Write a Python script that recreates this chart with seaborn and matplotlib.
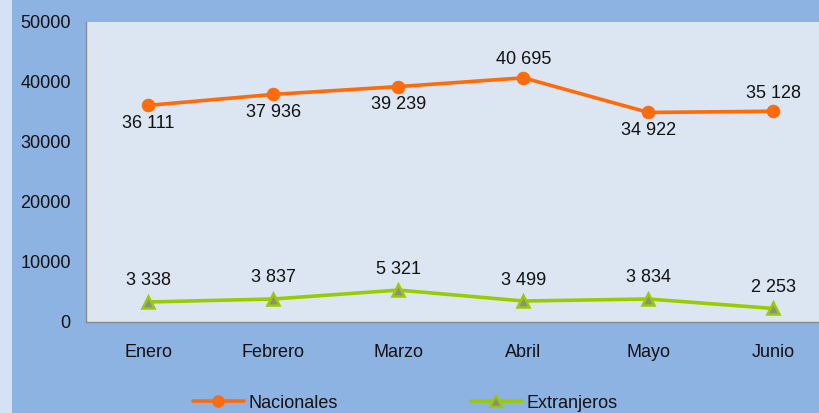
import matplotlib
matplotlib.use("Agg")
import matplotlib.pyplot as plt
import seaborn as sns
import pandas as pd
from matplotlib.patches import Rectangle
from matplotlib.lines import Line2D

months = ["Enero", "Febrero", "Marzo", "Abril", "Mayo", "Junio"]
nacionales = [36111, 37936, 39239, 40695, 34922, 35128]
extranjeros = [3338, 3837, 5321, 3499, 3834, 2253]
nac_label_pos = ["below", "below", "below", "above", "below", "above"]
y_ticks = [0, 10000, 20000, 30000, 40000, 50000]

sns.set_theme(style="white")
plt.rcParams["font.family"] = ["Liberation Sans", "DejaVu Sans"]

W, H = 820, 413
fig = plt.figure(figsize=(W / 100, H / 100), dpi=100)
fig.patch.set_facecolor("#8DB3E2")
# textured light strip at the left
fig.add_artist(Rectangle((0, 0), 12 / W, 1, transform=fig.transFigure,
                         facecolor="#D3E3F3", edgecolor="none", zorder=0))

left, right, top, bottom = 86, 836, 22, 322
ax = fig.add_axes([left / W, 1 - bottom / H, (right - left) / W, (bottom - top) / H])
ax.set_facecolor("#DCE6F2")

df = pd.DataFrame({"mes": list(range(len(months))) * 2,
                   "valor": nacionales + extranjeros,
                   "serie": ["Nacionales"] * 6 + ["Extranjeros"] * 6})

orange = "#FF6A0A"
green = "#99CC00"
gray = "#8C8C8C"

sns.lineplot(data=df[df.serie == "Nacionales"], x="mes", y="valor", ax=ax,
             color=orange, linewidth=2.6, marker="o", markersize=9,
             markeredgecolor=orange, markerfacecolor=orange, legend=False)
sns.lineplot(data=df[df.serie == "Extranjeros"], x="mes", y="valor", ax=ax,
             color=green, linewidth=2.6, marker="^", markersize=9,
             markeredgecolor=green, markerfacecolor=gray, markeredgewidth=1.8,
             legend=False)

ax.set_xlim(-0.5, len(months) - 0.5)
ax.set_ylim(0, 50000)
ax.set_yticks(y_ticks)
ax.set_yticklabels([str(v) for v in y_ticks], fontsize=13, color="#111111")
ax.set_xticks(range(len(months)))
ax.set_xticklabels(months, fontsize=13, color="#111111")
ax.tick_params(axis="y", length=0, pad=11)
ax.tick_params(axis="x", length=0, pad=16)
ax.set_xlabel("")
ax.set_ylabel("")
for s in ["top", "right"]:
    ax.spines[s].set_visible(False)
for s in ["left", "bottom"]:
    ax.spines[s].set_color("#8A8A8A")
    ax.spines[s].set_linewidth(1.0)

def fmt(v):
    return f"{v:,}".replace(",", " ")

for i, (v, pos) in enumerate(zip(nacionales, nac_label_pos)):
    dy = 18 if pos == "above" else -18
    ax.annotate(fmt(v), (i, v), xytext=(0, dy * 0.72), textcoords="offset points",
                ha="center", va="center", fontsize=13, color="#111111")
for i, v in enumerate(extranjeros):
    ax.annotate(fmt(v), (i, v), xytext=(0, 21 * 0.72), textcoords="offset points",
                ha="center", va="center", fontsize=13, color="#111111")

handles = [Line2D([], [], color=orange, linewidth=2.6, marker="o", markersize=8,
                  markerfacecolor=orange, markeredgecolor=orange),
           Line2D([], [], color=green, linewidth=2.6, marker="^", markersize=9,
                  markerfacecolor=gray, markeredgecolor=green, markeredgewidth=1.6)]
fig.legend(handles, ["Nacionales", "Extranjeros"], loc="center left",
           bbox_to_anchor=(193 / W, 1 - 403 / H), ncol=2, frameon=False,
           fontsize=13, handlelength=2.8, handletextpad=0.25, columnspacing=7.4,
           borderpad=0, borderaxespad=0, labelcolor="#111111")

fig.savefig("out.png", dpi=100, facecolor=fig.get_facecolor())
